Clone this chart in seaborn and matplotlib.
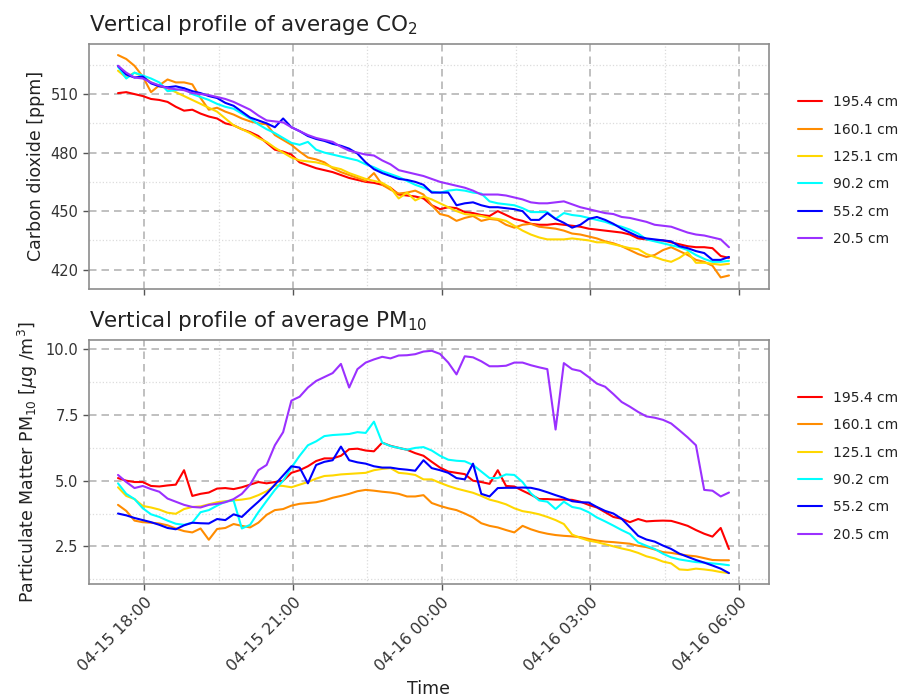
import numpy as np
import pandas as pd
import seaborn as sns
import matplotlib.pyplot as plt
import matplotlib.dates as mdates
from matplotlib.ticker import AutoMinorLocator, MultipleLocator

# 10-minute averages, 17:28 -> 05:48
times = pd.date_range('2024-04-15 17:28', periods=75, freq='10min')

heights = ['195.4 cm', '160.1 cm', '125.1 cm', '90.2 cm', '55.2 cm', '20.5 cm']
colors = ['#ff0000', '#ff8c00', '#ffd700', '#00ffff', '#0000ff', '#9b30ff']

# CO2 [ppm]
co2_195 = [510.5, 511, 510, 509, 507.5, 507, 506, 503.5, 501.5, 502, 500, 498.5, 497.5, 495, 494,
           492, 490.5, 488.5, 485, 481.5, 480.5, 479, 475, 473.5, 472, 471, 470, 468.5, 467, 466,
           465, 464.5, 463.5, 462, 458.5, 458, 457.5, 456.5, 453, 451, 452, 451.5, 449.5, 449, 448,
           447.5, 450, 448, 446, 445, 443.5, 443, 443, 443.5, 443, 442.5, 442, 441, 440.5, 440,
           439.5, 439, 438, 436, 435.5, 435, 435, 434, 433, 432, 431.5, 431.5, 431, 427, 426]
co2_160 = [530, 528, 524.5, 519, 511, 514.5, 517.5, 516, 516, 515, 508, 502, 503, 501, 499.5,
           497.5, 496, 495, 494.5, 489, 486.5, 484, 480.5, 477.5, 476.5, 475, 472, 470, 468.5, 467,
           465.5, 469.5, 463.5, 461, 459, 459.5, 460.5, 458.5, 453, 448.5, 447.5, 445, 446.5, 447.5, 445,
           446, 445.5, 443, 441.5, 443, 443.5, 442, 441.5, 441, 440, 438.5, 438, 437, 436, 434.5,
           433.5, 432, 430, 428, 426.5, 427.5, 430, 431.5, 429.5, 427.5, 425, 424, 422, 416, 417]
co2_125 = [522, 518.5, 521, 519, 516, 514, 513, 511, 509, 507, 505, 503, 501, 497.5, 494,
           492, 490, 487.5, 485.5, 482.5, 480, 477.5, 476, 475.5, 475, 474, 472.5, 471.5, 469.5, 468,
           466.5, 465.5, 464.5, 462, 456.5, 459.5, 455.5, 457.5, 456, 454, 452, 450, 448.5, 448, 447.5,
           446.5, 446, 445, 442.5, 440, 438, 436.5, 435.5, 435.5, 435.5, 436, 435.5, 435, 434, 434,
           433, 432, 431, 430.5, 428, 426.5, 425, 424, 426, 429, 423.5, 423.5, 423, 422.5, 423]
co2_90 = [524, 518, 521, 519.5, 518, 516, 511.5, 512, 513, 510, 508.5, 507, 505, 503.5, 502.5,
          500, 497.5, 494.5, 492, 490, 487.5, 485, 484, 485.5, 481.5, 480, 479, 478, 477, 476,
          474, 472.5, 470.5, 469, 467.5, 465.5, 463.5, 462, 460, 459.5, 460.5, 461, 460.5, 459.5, 459,
          455, 454, 453.5, 453, 451.5, 449.5, 449.5, 449.5, 446, 449, 448, 447.5, 446.5, 445.5, 444.5,
          443, 442, 440.5, 438.5, 435.5, 434.5, 433.5, 432.5, 431.5, 430, 427.5, 425.5, 424, 424, 424.5]
co2_55 = [524.5, 520, 518.5, 519, 515.5, 514, 513.5, 514, 513, 511.5, 510.5, 509, 508, 505.5, 504,
          501, 498, 496.5, 495, 493, 497.5, 493, 491, 488.5, 487, 486, 484.5, 483.5, 482, 479.5,
          475, 471.5, 469.5, 468, 466.5, 466, 465, 463.5, 459.5, 459.5, 459.5, 453, 454, 454.5, 453,
          452, 452, 451.5, 451, 450, 445.5, 445.5, 449, 446, 444, 441.5, 443, 446, 447, 445.5,
          443.5, 441, 439, 437, 436, 435.5, 435, 434.5, 432, 431, 429.5, 428.5, 425, 425, 426.5]
co2_20 = [524.5, 521, 518.5, 518, 516, 514.5, 513, 512.5, 512, 510.5, 510, 509.5, 508.5, 507.5, 506,
          504, 502, 499, 496.5, 496, 495.5, 493, 491, 489, 487.5, 486.5, 485.5, 483, 481, 480,
          479, 478.5, 476, 474, 471, 470, 469, 468, 466.5, 465, 464, 463, 462, 460.5, 458.5,
          458.5, 458.5, 458, 457, 456, 454.5, 454, 454, 454.5, 455, 453.5, 452, 451, 450, 449,
          448.5, 447, 446.5, 445.5, 444.5, 443, 442.5, 442, 440.5, 439, 438, 437.5, 436.5, 435.5, 431.5]

# PM10 [ug/m3]
pm_195 = [5.1, 5.0, 4.95, 4.95, 4.8, 4.78, 4.82, 4.85, 5.4, 4.42, 4.5, 4.55, 4.7, 4.72, 4.68,
          4.75, 4.85, 4.95, 4.9, 4.95, 5.0, 5.3, 5.4, 5.55, 5.75, 5.85, 5.85, 5.95, 6.2, 6.22,
          6.15, 6.12, 6.45, 6.33, 6.25, 6.18, 6.05, 5.95, 5.72, 5.5, 5.35, 5.3, 5.25, 5.0, 4.95,
          4.88, 5.4, 4.8, 4.78, 4.62, 4.47, 4.3, 4.3, 4.28, 4.28, 4.27, 4.2, 4.08, 3.98, 3.8,
          3.62, 3.55, 3.42, 3.54, 3.45, 3.47, 3.48, 3.47, 3.38, 3.28, 3.12, 2.98, 2.87, 3.2, 2.4]
pm_160 = [4.08, 3.85, 3.48, 3.42, 3.4, 3.37, 3.3, 3.18, 3.08, 3.03, 3.18, 2.75, 3.16, 3.2, 3.35,
          3.28, 3.22, 3.4, 3.7, 3.88, 3.92, 4.05, 4.12, 4.15, 4.18, 4.25, 4.35, 4.42, 4.5, 4.6,
          4.65, 4.62, 4.58, 4.55, 4.5, 4.4, 4.4, 4.45, 4.15, 4.04, 3.95, 3.88, 3.75, 3.6, 3.38,
          3.28, 3.22, 3.12, 3.03, 3.28, 3.15, 3.05, 2.98, 2.93, 2.9, 2.88, 2.85, 2.78, 2.72, 2.68,
          2.66, 2.63, 2.6, 2.52, 2.47, 2.38, 2.28, 2.25, 2.2, 2.15, 2.12, 2.05, 1.98, 1.97, 1.97]
pm_125 = [4.75, 4.42, 4.3, 4.04, 3.98, 3.9, 3.78, 3.74, 3.92, 4.0, 4.02, 4.1, 4.18, 4.22, 4.25,
          4.28, 4.33, 4.45, 4.6, 4.82, 4.8, 4.75, 4.85, 4.95, 5.08, 5.18, 5.2, 5.24, 5.26, 5.28,
          5.3, 5.4, 5.45, 5.48, 5.3, 5.27, 5.22, 5.05, 5.05, 4.92, 4.8, 4.7, 4.62, 4.54, 4.42,
          4.28, 4.2, 4.1, 3.95, 3.84, 3.79, 3.72, 3.62, 3.5, 3.35, 2.95, 2.82, 2.72, 2.66, 2.58,
          2.5, 2.42, 2.35, 2.25, 2.12, 2.04, 1.92, 1.85, 1.62, 1.6, 1.65, 1.62, 1.58, 1.52, 1.48]
pm_90 = [4.9, 4.5, 4.3, 3.95, 3.72, 3.62, 3.48, 3.36, 3.32, 3.4, 3.8, 3.88, 4.05, 4.2, 4.25,
         3.18, 3.32, 3.8, 4.23, 4.65, 5.0, 5.5, 5.95, 6.35, 6.5, 6.7, 6.74, 6.76, 6.78, 6.85,
         6.82, 7.25, 6.45, 6.32, 6.25, 6.18, 6.25, 6.28, 6.15, 5.95, 5.8, 5.76, 5.74, 5.6, 5.35,
         5.1, 5.1, 5.24, 5.22, 4.95, 4.52, 4.25, 4.2, 3.92, 4.2, 4.0, 3.94, 3.8, 3.6, 3.45,
         3.29, 3.12, 2.97, 2.65, 2.52, 2.4, 2.22, 2.08, 2.0, 1.95, 1.9, 1.88, 1.85, 1.82, 1.78]
pm_55 = [3.75, 3.68, 3.58, 3.5, 3.42, 3.32, 3.2, 3.15, 3.3, 3.4, 3.38, 3.37, 3.54, 3.5, 3.72,
         3.62, 3.92, 4.2, 4.5, 4.85, 5.2, 5.55, 5.5, 4.9, 5.6, 5.72, 5.78, 6.3, 5.78, 5.7,
         5.65, 5.55, 5.5, 5.5, 5.45, 5.42, 5.38, 5.78, 5.48, 5.4, 5.3, 5.1, 5.05, 5.65, 4.5,
         4.4, 4.72, 4.73, 4.73, 4.74, 4.73, 4.66, 4.56, 4.45, 4.35, 4.22, 4.18, 4.17, 4.0, 3.85,
         3.75, 3.55, 3.23, 2.9, 2.76, 2.68, 2.53, 2.4, 2.22, 2.1, 1.98, 1.88, 1.77, 1.65, 1.48]
pm_20 = [5.22, 4.95, 4.72, 4.8, 4.68, 4.58, 4.32, 4.2, 4.08, 4.0, 3.98, 4.08, 4.12, 4.18, 4.3,
         4.5, 4.85, 5.4, 5.6, 6.35, 6.85, 8.05, 8.2, 8.55, 8.8, 8.95, 9.1, 9.45, 8.55, 9.25,
         9.5, 9.62, 9.72, 9.66, 9.77, 9.78, 9.82, 9.92, 9.95, 9.83, 9.5, 9.05, 9.74, 9.7, 9.55,
         9.36, 9.36, 9.38, 9.5, 9.5, 9.4, 9.32, 9.25, 6.95, 9.48, 9.25, 9.18, 8.95, 8.7, 8.58,
         8.3, 8.0, 7.82, 7.62, 7.45, 7.4, 7.32, 7.18, 6.92, 6.65, 6.35, 4.65, 4.62, 4.4, 4.55]

co2 = pd.DataFrame(dict(zip(heights, [co2_195, co2_160, co2_125, co2_90, co2_55, co2_20])))
co2['time'] = times
co2 = co2.melt(id_vars='time', var_name='height', value_name='value')

pm = pd.DataFrame(dict(zip(heights, [pm_195, pm_160, pm_125, pm_90, pm_55, pm_20])))
pm['time'] = times
pm = pm.melt(id_vars='time', var_name='height', value_name='value')

sns.set_style('white')
plt.rcParams['font.family'] = ['DejaVu Sans']
plt.rcParams['text.color'] = '#222222'
plt.rcParams['axes.labelcolor'] = '#222222'

fig, (ax1, ax2) = plt.subplots(2, 1, figsize=(9, 6.98), dpi=100, sharex=True)
fig.subplots_adjust(left=0.099, right=0.854, top=0.937, bottom=0.163, hspace=0.209)

sns.lineplot(data=co2, x='time', y='value', hue='height', hue_order=heights,
             palette=colors, lw=1.5, ax=ax1)
sns.lineplot(data=pm, x='time', y='value', hue='height', hue_order=heights,
             palette=colors, lw=1.5, ax=ax2)


def style(ax):
    ax.xaxis.set_major_locator(mdates.HourLocator(byhour=[0, 3, 6, 9, 12, 15, 18, 21]))
    ax.xaxis.set_major_formatter(mdates.DateFormatter('%m-%d %H:%M'))
    ax.xaxis.set_minor_locator(AutoMinorLocator(2))
    ax.yaxis.set_minor_locator(AutoMinorLocator(2))
    ax.grid(True, which='major', ls=(0, (4.5, 3)), color='#b5b5b5', lw=1.2)
    ax.grid(True, which='minor', ls=':', color='#dcdcdc', lw=0.9)
    for s in ax.spines.values():
        s.set_color('#8c8c8c')
        s.set_linewidth(1.2)
    ax.tick_params(which='major', bottom=True, left=True, direction='out', length=4,
                   width=1, color='#555555', labelsize=10.5, labelcolor='#333333')
    ax.tick_params(which='minor', length=0)
    ax.legend(loc='center left', bbox_to_anchor=(1.025, 0.482), frameon=False, fontsize=10,
              handlelength=1.7, labelspacing=0.96)


style(ax1)
style(ax2)

ax2.set_xlim(pd.Timestamp('2024-04-15 16:53'), pd.Timestamp('2024-04-16 06:36'))
ax1.yaxis.set_major_locator(MultipleLocator(30))
ax2.yaxis.set_major_locator(MultipleLocator(2.5))

ax1.set_title('Vertical profile of average CO$_2$', loc='left', fontsize=15.5, pad=9)
ax2.set_title('Vertical profile of average PM$_{10}$', loc='left', fontsize=15.5, pad=9)
ax1.set_ylabel('Carbon dioxide [ppm]', fontsize=12.5)
ax2.set_ylabel(r'Particulate Matter PM$_{10}$ [$\mu$g /m$^3$]', fontsize=12.5)
ax1.set_xlabel('')
ax2.set_xlabel('Time', fontsize=12.5)

ax2.tick_params(axis='x', labelsize=11.5)
plt.setp(ax2.get_xticklabels(), rotation=45, ha='right', rotation_mode='anchor')

fig.savefig('out.png', dpi=100)
